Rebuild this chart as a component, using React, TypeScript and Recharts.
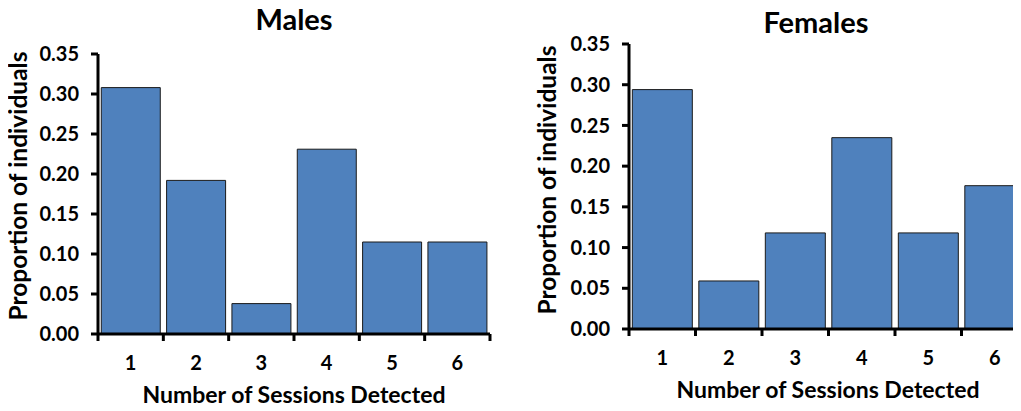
import { BarChart, Bar, XAxis, YAxis, Label } from "recharts";

const sessions = ["1", "2", "3", "4", "5", "6"];
const maleProportions = [0.308, 0.192, 0.038, 0.231, 0.115, 0.115];
const femaleProportions = [0.294, 0.059, 0.118, 0.235, 0.118, 0.176];
const yTicks = [0, 0.05, 0.1, 0.15, 0.2, 0.25, 0.3, 0.35];

const FONT = "Lato, 'Open Sans', sans-serif";
const BLUE = "#4F81BD";
const Y_AXIS_W = 60;
const X_AXIS_H = 50;

type PanelProps = {
  title: string;
  values: number[];
  chartLeft: number;
  width: number;
  plot: { left: number; right: number; top: number; bottom: number };
  titleX: number;
  titleY: number;
  yLabelX: number;
  yLabelY: number;
  xLabelX: number;
  xLabelY: number;
  tickLabelY: number;
};

function Panel(p: PanelProps) {
  const height = 411;
  const data = sessions.map((s, i) => ({ session: s, value: p.values[i] }));
  const band = (p.plot.right - p.plot.left) / sessions.length;
  const off = p.chartLeft;

  // labels sit in the middle of each bar, tick marks on the bar edges
  const renderTick = (props: any) => {
    const { x, y, payload, index } = props;
    const half = band / 2;
    return (
      <g>
        <line x1={x - half} x2={x - half} y1={y} y2={y + 7} stroke="#000" strokeWidth={3} />
        {index === sessions.length - 1 && (
          <line x1={x + half} x2={x + half} y1={y} y2={y + 7} stroke="#000" strokeWidth={3} />
        )}
        <text x={x} y={p.tickLabelY} textAnchor="middle" fontSize={20} fontWeight={700} fill="#000" fontFamily={FONT}>
          {payload.value}
        </text>
      </g>
    );
  };

  return (
    <div style={{ position: "absolute", left: off, top: 0 }}>
      <BarChart
        width={p.width}
        height={height}
        data={data}
        barCategoryGap="5%"
        margin={{
          top: p.plot.top,
          bottom: height - p.plot.bottom - X_AXIS_H,
          left: p.plot.left - off - Y_AXIS_W,
          right: off + p.width - p.plot.right,
        }}
      >
        <XAxis
          dataKey="session"
          height={X_AXIS_H}
          tickSize={0}
          tickMargin={0}
          tickLine={false}
          axisLine={{ stroke: "#000", strokeWidth: 3 }}
          tick={renderTick}
          interval={0}
        >
          <Label
            content={() => (
              <text x={p.xLabelX - off} y={p.xLabelY} textAnchor="middle" fontSize={23} fontWeight={700} fill="#000" fontFamily={FONT}>
                Number of Sessions Detected
              </text>
            )}
          />
        </XAxis>
        <YAxis
          width={Y_AXIS_W}
          domain={[0, 0.35]}
          ticks={yTicks}
          tickFormatter={(v: number) => v.toFixed(2)}
          tickSize={7}
          tickMargin={12}
          tickLine={{ stroke: "#000", strokeWidth: 3 }}
          axisLine={{ stroke: "#000", strokeWidth: 3 }}
          tick={{ fontSize: 20, fontWeight: 700, fill: "#000", fontFamily: FONT }}
        >
          <Label
            content={() => (
              <g>
                <text
                  x={p.yLabelX - off}
                  y={p.yLabelY}
                  transform={`rotate(-90 ${p.yLabelX - off} ${p.yLabelY})`}
                  textAnchor="middle"
                  fontSize={24.5}
                  fontWeight={700}
                  fill="#000"
                  fontFamily={FONT}
                >
                  Proportion of individuals
                </text>
                <text x={p.titleX - off} y={p.titleY} textAnchor="middle" fontSize={29} fontWeight={700} fill="#000" fontFamily={FONT}>
                  {p.title}
                </text>
              </g>
            )}
          />
        </YAxis>
        <Bar dataKey="value" fill={BLUE} stroke="#1a1a1a" strokeWidth={1} isAnimationActive={false} />
      </BarChart>
    </div>
  );
}

export default function App() {
  return (
    <div style={{ position: "relative", width: 1021, height: 411, overflow: "hidden", margin: -8, background: "#fff" }}>
      <Panel
        title="Males"
        values={maleProportions}
        chartLeft={0}
        width={510}
        plot={{ left: 98, right: 490, top: 54, bottom: 334 }}
        titleX={294}
        titleY={30}
        yLabelX={27}
        yLabelY={186}
        xLabelX={294}
        xLabelY={403}
        tickLabelY={370}
      />
      <Panel
        title="Females"
        values={femaleProportions}
        chartLeft={520}
        width={520}
        plot={{ left: 629, right: 1028, top: 44, bottom: 329 }}
        titleX={816}
        titleY={33}
        yLabelX={556}
        yLabelY={180}
        xLabelX={828}
        xLabelY={398}
        tickLabelY={365}
      />
    </div>
  );
}
